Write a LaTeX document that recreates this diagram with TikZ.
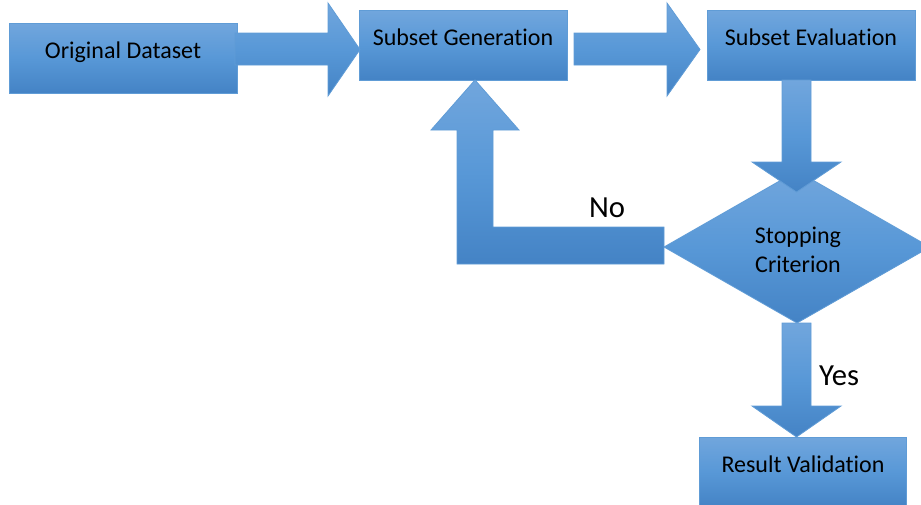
\documentclass[tikz,border=0pt]{standalone}
\usepackage{fontspec}
\setmainfont{Carlito}[Ligatures={NoCommon}]
\usetikzlibrary{calc}
\definecolor{gtop}{RGB}{113,166,221}
\definecolor{gmid}{RGB}{88,152,215}
\definecolor{gbot}{RGB}{68,131,197}
\definecolor{edge}{RGB}{96,156,214}
\tikzset{
  blue/.style={top color=gtop, bottom color=gbot, middle color=gmid, draw=edge, line width=0.6pt},
  box/.style={blue, rectangle, inner sep=0pt},
  boxtext/.style={font=\fontsize{18}{22}\selectfont, anchor=base, inner sep=0pt},
  bigtext/.style={font=\fontsize{23}{28}\selectfont, anchor=base, inner sep=0pt}
}
\begin{document}
\begin{tikzpicture}[x=0.75pt,y=-0.75pt]
\useasboundingbox (0,0) rectangle (921,504);
\clip (0,0) rectangle (921,504);
% boxes
\node[box, minimum width=228*0.75pt, minimum height=70*0.75pt] (od) at (123,58) {};
\node[box, minimum width=208*0.75pt, minimum height=70*0.75pt] (sg) at (463,45) {};
\node[box, minimum width=208*0.75pt, minimum height=70*0.75pt] (se) at (811,45) {};
\node[box, minimum width=207*0.75pt, minimum height=70*0.75pt] (rv) at (802.5,472) {};
% diamond
\coordinate (dc) at (797,247);
\path[blue] (664,247) -- (797,171) -- (930,247) -- (797,323) -- cycle;
% block arrows
\path[blue] (235,33) -- (328,33) -- (328,3) -- (360,49.5) -- (328,96) -- (328,65) -- (235,65) -- cycle;
\path[blue] (574,33) -- (667,33) -- (667,3) -- (700,49.5) -- (667,96) -- (667,65) -- (574,65) -- cycle;
\path[blue] (782,80) -- (811,80) -- (811,162) -- (841,162) -- (796.5,192) -- (752,162) -- (782,162) -- cycle;
\path[blue] (782,323) -- (811,323) -- (811,406) -- (841,406) -- (796.5,437) -- (752,406) -- (782,406) -- cycle;
\path[blue] (664,227) -- (664,264) -- (457,264) -- (457,130) -- (431,130) -- (475,80) -- (519,130) -- (493,130) -- (493,227) -- cycle;
% texts
\node[boxtext] (odt) at (123,58) {Original Dataset};
\node[boxtext] (sgt) at (463,45) {Subset Generation};
\node[boxtext] (set) at (811,45) {Subset Evaluation};
\node[boxtext] (rvt) at (803,472) {Result Validation};
\node[boxtext] (sc1) at (798,243) {Stopping};
\node[boxtext] (sc2) at (798,272) {Criterion};
\node[bigtext] (no) at (607,217) {No};
\node[bigtext] (yes) at (839,385) {Yes};
\end{tikzpicture}
\end{document}
